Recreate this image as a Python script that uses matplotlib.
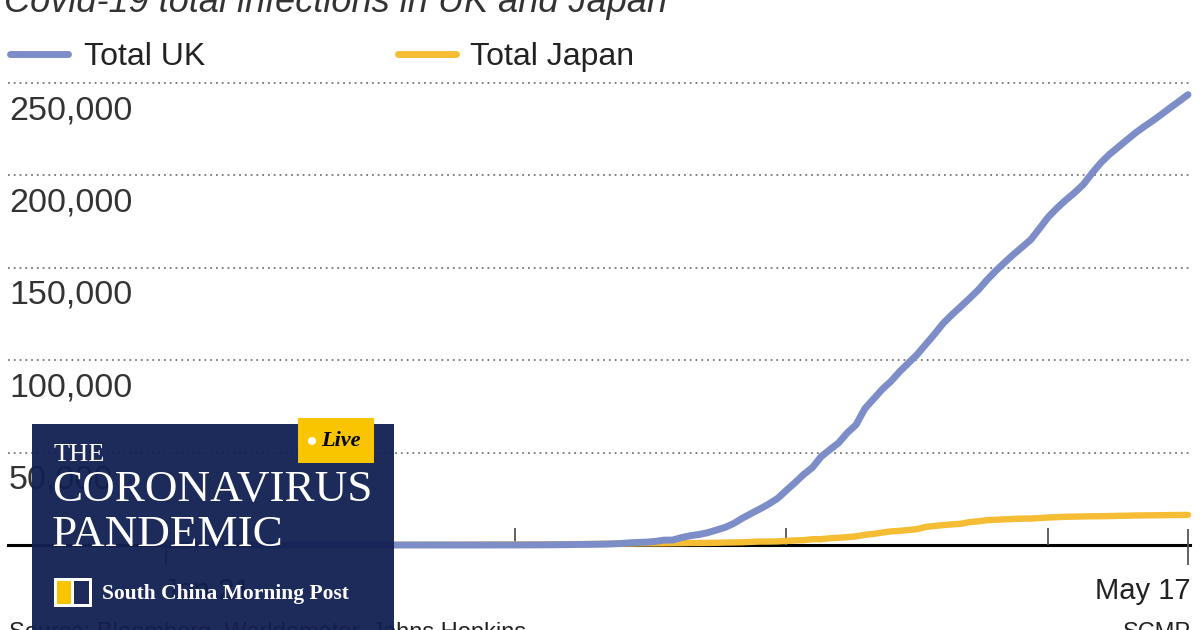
import matplotlib
matplotlib.use("Agg")
import matplotlib.pyplot as plt
from matplotlib.patches import Rectangle, Circle
import numpy as np
import pandas as pd

# Dados: casos acumulados (Johns Hopkins), 21 jan - 17 mai 2020
datas = pd.date_range("2020-01-21", "2020-05-17", freq="D")

uk_casos = [0] * 10 + [2] + [
    2, 2, 2, 2, 2, 3, 3, 3, 3, 8, 8, 9, 9, 9, 9, 9, 9, 9, 9, 9, 9, 9, 9, 13, 13, 13, 15, 20, 23,
    36, 40, 51, 86, 116, 164, 209, 278, 321, 383, 460, 596, 804, 1140, 1391, 1543, 1950, 2626,
    2689, 3983, 5018, 5683, 6650, 8077, 9529, 11658, 14543, 17089, 19522, 22141, 25150,
    29474, 33718, 38168, 41903, 47806, 51608, 55242, 60733, 65077, 73758, 78991, 84279, 88621,
    93873, 98476, 103093, 108692, 114217, 120067, 124743, 129044, 133495, 138078, 143464,
    148377, 152840, 157149, 161145, 165221, 171253,
    177454, 182260, 186599, 190584, 194990, 201101, 206715, 211364, 215260, 219183, 223060,
    226463, 229705, 233151, 236711, 240161, 243695]

japao_casos = [1, 2, 2, 2, 2, 4, 4, 7, 7, 11, 15,
    20, 20, 20, 22, 22, 25, 25, 25, 26, 26, 26, 28, 28, 29, 43, 59, 66, 74, 84, 94, 105, 122,
    147, 159, 170, 189, 214, 228, 241,
    256, 274, 293, 331, 360, 420, 461, 502, 511, 581, 639, 639, 701, 773, 839, 878, 889, 924,
    963, 1007, 1086, 1086, 1128, 1193, 1307, 1387, 1468, 1693, 1866, 1866, 1953,
    2178, 2495, 2617, 3139, 3139, 3654, 3906, 4257, 4667, 5530, 6005, 6748, 7370, 7645, 8100,
    8626, 9787, 10296, 10797, 11135, 11512, 12368, 12829, 13441, 13614, 13895, 14088, 14281,
    14305, 14571,
    14877, 15078, 15253, 15354, 15463, 15547, 15575, 15663, 15777, 15847, 15968, 16024, 16079,
    16120, 16203, 16237, 16285]

grade_y = [50000, 100000, 150000, 200000, 250000]
rotulos_y = ["50,000", "100,000", "150,000", "200,000", "250,000"]
ticks_meses = pd.to_datetime(["2020-03-01", "2020-04-01", "2020-05-01"])
ticks_extremos = pd.to_datetime(["2020-01-21", "2020-05-17"])

AZUL = "#7d8dc7"
AMARELO = "#f4bd33"
MARINHO = "#111f52"
FONTE = ["Liberation Sans", "DejaVu Sans"]
SERIF = ["Liberation Serif", "DejaVu Serif"]

W, H = 1200, 630
fig = plt.figure(figsize=(12, 6.3), dpi=100)
ax = fig.add_axes([0, 0, 1, 1])

# escala: 21 jan em x=166px, 17 mai em x=1188px; zero em y=545px, 50k a cada 92.4px
px_dia = (1188 - 166) / 117.0
inicio = datas[0]
ax.set_xlim(inicio - pd.Timedelta(days=166 / px_dia), inicio + pd.Timedelta(days=(W - 166) / px_dia))
un_px = 50000 / 92.4
ax.set_ylim(-(H - 545) * un_px, 545 * un_px)
ax.axis("off")

x_esq = inicio - pd.Timedelta(days=(166 - 8) / px_dia)
x_dir = inicio + pd.Timedelta(days=(1190 - 166) / px_dia)
for g in grade_y:
    ax.plot([x_esq, x_dir], [g, g], color="#777777", lw=1.3, ls=(0, (1, 2.2)), zorder=1)
ax.plot([x_esq, x_dir], [0, 0], color="black", lw=2.2, zorder=2)
ax.vlines(ticks_meses, 0, 17 * un_px, color="#555555", lw=1.3, zorder=2)
ax.vlines(ticks_extremos, -20 * un_px, 16 * un_px, color="#555555", lw=1.3, zorder=2)

ax.plot(datas, japao_casos, color=AMARELO, lw=4.6, solid_capstyle="round", zorder=3)
ax.plot(datas, uk_casos, color=AZUL, lw=5.0, solid_capstyle="round", zorder=4)

# camada de texto em pixels
ov = fig.add_axes([0, 0, 1, 1], zorder=5)
ov.set_xlim(0, W)
ov.set_ylim(H, 0)
ov.axis("off")
ov.patch.set_alpha(0)

for g, r in zip(grade_y, rotulos_y):
    ypx = 545 - g / un_px
    ov.text(9, ypx + 12, r, family=FONTE, fontsize=24.5, color="#333333", ha="left", va="top")

ov.text(4, 12, "Covid-19 total infections in UK and Japan", family=FONTE, fontsize=26,
        style="italic", color="#333333", ha="left", va="baseline")

ov.plot([10, 68], [54, 54], color=AZUL, lw=5, solid_capstyle="round")
ov.text(84, 57, "Total UK", family=FONTE, fontsize=23, color="#222222", ha="left", va="center")
ov.plot([398, 456], [54, 54], color=AMARELO, lw=5, solid_capstyle="round")
ov.text(470, 57, "Total Japan", family=FONTE, fontsize=23, color="#222222", ha="left", va="center")

ov.text(163, 577, "Jan 21", family=FONTE, fontsize=21, color="#222222", ha="left", va="top")
ov.text(1191, 577, "May 17", family=FONTE, fontsize=21, color="#222222", ha="right", va="top")
ov.text(9, 622, "Source: Bloomberg, Worldometer, Johns Hopkins", family=FONTE, fontsize=17,
        color="#222222", ha="left", va="top")
ov.text(1191, 622, "SCMP", family=FONTE, fontsize=17, color="#222222", ha="right", va="top")

# selo SCMP sobreposto
ov.add_patch(Rectangle((32, 424), 362, 220, color=MARINHO, alpha=0.95, lw=0, zorder=6))
ov.add_patch(Rectangle((298, 418), 76, 45, color="#f8c500", lw=0, zorder=7))
ov.add_patch(Circle((312, 441), 4, color="white", lw=0, zorder=8))
ov.text(321, 441, "Live", family=SERIF, fontsize=16, weight="bold", style="italic",
        color="black", ha="left", va="center", zorder=8)
ov.text(54, 444, "THE", family=SERIF, fontsize=19, color="white",
        ha="left", va="top", zorder=8)
ov.text(52, 470, "CORONAVIRUS", family=SERIF, fontsize=32.5, color="white",
        ha="left", va="top", zorder=8)
ov.text(52, 515, "PANDEMIC", family=SERIF, fontsize=32.5, color="white",
        ha="left", va="top", zorder=8)
ov.add_patch(Rectangle((54, 578), 38, 29, color="white", lw=0, zorder=7))
ov.add_patch(Rectangle((57, 581), 14, 23, color="#f8c500", lw=0, zorder=8))
ov.add_patch(Rectangle((74, 581), 15, 23, color="#1d2a5a", lw=0, zorder=8))
ov.text(102, 594, "South China Morning Post", family=SERIF, fontsize=15.5,
        weight="bold", color="white", ha="left", va="center", zorder=8)

fig.savefig("out.png", dpi=100)
